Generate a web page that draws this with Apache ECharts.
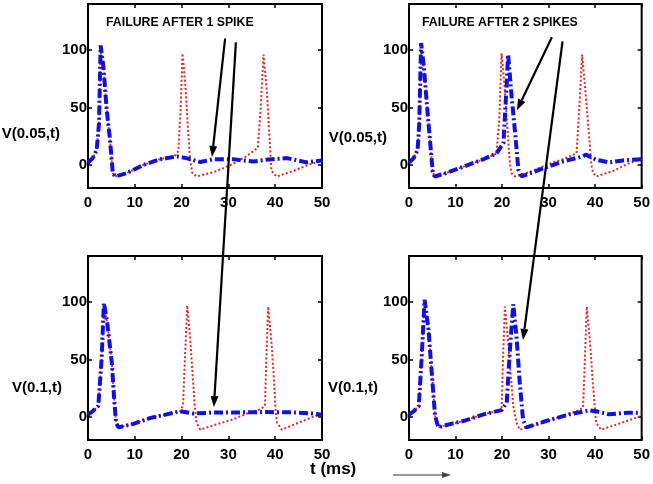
<!DOCTYPE html>
<html><head><meta charset="utf-8">
<script src="https://cdn.jsdelivr.net/npm/echarts@6/dist/echarts.min.js"></script>
<style>html,body{margin:0;padding:0;background:#fff}#c{width:653px;height:484px}</style>
</head><body><div id="c"></div>
<script>
const xTicks = [0, 10, 20, 30, 40, 50];
const yTicks = [0, 50, 100];
const panelYLabels = ['V(0.05,t)', 'V(0.05,t)', 'V(0.1,t)', 'V(0.1,t)'];
const failureLabels = ['FAILURE AFTER 1 SPIKE', 'FAILURE AFTER 2 SPIKES'];
const xAxisTitle = 't (ms)';

// panel 1 (top-left): V(0.05,t), failure after 1 spike
const blue1 = [[0,2],[1,6],[1.85,13],[2.35,36],[2.7,104],[3.3,85],[4,48],[4.7,22],[5.3,-7],[5.8,-10],[8.3,-7],[11.8,0],[15.4,5],[19,7.5],[21,6],[24,2.6],[26.8,5],[31,5],[35.3,3],[38,4.6],[42.5,6],[46.7,2.3],[50,4]];
const red1 = [[0,2],[1,6],[1.85,13],[2.35,36],[2.7,100],[3.3,85],[4,48],[4.7,22],[5.3,-7],[5.8,-10],[8.3,-7],[11.8,0],[15.4,5],[18.5,8],[19.3,12],[19.8,50],[20.2,97],[20.8,70],[21.3,35],[21.8,5],[22.3,-7],[23.2,-10],[27,-6],[31,1],[34,8],[36.3,15],[36.9,50],[37.5,96],[38.2,65],[38.7,30],[39.2,-5],[40.3,-10],[44,-5],[47,0],[50,4]];
// panel 2 (top-right): V(0.05,t), failure after 2 spikes
const blue2 = [[0,2],[1,6],[1.85,13],[2.2,36],[2.6,106],[3.2,85],[3.9,50],[4.5,22],[5.1,-6],[5.5,-10],[8,-7],[12,-1],[16,5],[18.8,10],[20.3,19],[21,71],[21.3,96],[22,62],[22.8,28],[23.5,-4],[24.2,-10],[28.8,-3],[33,3],[37.4,7.5],[38,9],[40.2,4.6],[43,2.3],[46,4],[50,5]];
const red2 = [[0,2],[1,6],[1.85,13],[2.2,36],[2.6,100],[3.2,85],[3.9,50],[4.5,22],[5.1,-6],[5.5,-10],[8,-7],[12,-1],[16,5],[18.8,10],[19.4,40],[19.9,97],[20.5,70],[21.1,35],[21.6,5],[22,-7],[22.8,-10],[26,-6],[29.5,0],[33,5],[36,10],[36.6,50],[37.2,96],[37.9,65],[38.6,30],[39.2,0],[39.6,-7],[40.2,-10],[44,-5],[47,1],[50,5]];
// panel 3 (bottom-left): V(0.1,t)
const blue3 = [[0,2],[1,5],[2.2,9.5],[2.9,50],[3.4,99],[4.1,82],[5.1,47],[5.6,15],[6,-5],[6.5,-9],[9.7,-6],[13.2,-1],[16.8,2.3],[19.7,5],[22.5,3],[27.5,4],[32.5,4],[38.2,4.3],[43.9,4],[48,3],[50,2]];
const red3 = [[0,2],[1,5],[2.2,9.5],[2.9,50],[3.4,96],[4.1,82],[5.1,47],[5.6,15],[6,-5],[6.5,-9],[9.7,-6],[13.2,-1],[16.8,2.3],[19.7,5],[20.3,10],[20.7,50],[21.2,97],[21.8,70],[22.3,40],[22.8,10],[23.2,-5],[24,-11],[27,-7],[31,-2],[34,3],[36.8,6.6],[37.8,9.5],[38.1,50],[38.5,96],[39.2,65],[39.7,35],[40.1,5],[40.4,-5],[41.4,-11],[45,-5],[48,0],[50,2.3]];
// panel 4 (bottom-right): V(0.1,t)
const blue4 = [[0,2],[1,5],[2.1,9.5],[2.7,50],[3.35,102],[4.2,76],[4.9,38],[5.6,1],[6.3,-9],[9,-6],[11.7,-3.5],[16,2.3],[19.9,6],[21,12.4],[21.7,59],[22.4,98],[23.1,70],[23.8,30],[24.5,-2],[25.2,-9],[29.5,-3.5],[34.5,2.3],[38.8,5.8],[40.2,5],[43,2.3],[47.4,3.8],[50,3.8]];
const red4 = [[0,2],[1,5],[2.1,9.5],[2.7,50],[3.35,98],[4.2,76],[4.9,38],[5.6,1],[6.3,-9],[9,-6],[11.7,-3.5],[16,2.3],[19.9,6],[20.2,50],[20.6,96],[21.2,70],[21.8,40],[22.4,10],[23.1,-5],[23.8,-11],[28,-6],[33,1],[36,5],[37.4,8],[37.8,50],[38.2,96],[38.9,65],[39.5,30],[40.2,-5],[41.3,-11],[45,-6],[50,1]];

// annotation arrows in data coords: [gridStart, [t,v], gridEnd, [t,v]]
const arrows = [
  [0, [29.3, 110], 0, [26.5, 7]],
  [0, [31.6, 106.6], 2, [26.9, 8.6]],
  [1, [30.7, 111], 1, [23.2, 47.7]],
  [1, [33.0, 107.5], 3, [24.5, 67]]
];

const blues = [blue1, blue2, blue3, blue4];
const reds = [red1, red2, red3, red4];
const FONT = 'Liberation Sans, Arial, Helvetica, sans-serif';

const grids = [
  {left: 88, top: 4, width: 234, height: 184},
  {left: 409, top: 4, width: 233, height: 184},
  {left: 88, top: 256, width: 234, height: 184},
  {left: 409, top: 256, width: 233, height: 184}
];

const xAxes = [], yAxes = [], series = [];
grids.forEach((g, i) => {
  g.show = true; g.borderColor = '#000'; g.borderWidth = 2; g.backgroundColor = '#fff';
  const tick = {inside: true, length: 4, lineStyle: {color: '#000', width: 1.5}};
  const lab = {fontSize: 15, fontWeight: 'bold', color: '#000', fontFamily: FONT};
  const line = {show: false, onZero: false};
  xAxes.push({gridIndex: i, type: 'value', min: 0, max: 50, interval: 10, position: 'bottom',
    axisLine: line, axisTick: tick, splitLine: {show: false},
    axisLabel: Object.assign({margin: 7}, lab)});
  xAxes.push({gridIndex: i, type: 'value', min: 0, max: 50, interval: 10, position: 'top',
    axisLine: line, axisTick: tick, splitLine: {show: false}, axisLabel: {show: false}});
  yAxes.push({gridIndex: i, type: 'value', min: -20, max: 140, position: 'left',
    axisLine: line, axisTick: Object.assign({customValues: yTicks}, tick), splitLine: {show: false},
    axisLabel: Object.assign({margin: 1, customValues: yTicks}, lab)});
  yAxes.push({gridIndex: i, type: 'value', min: -20, max: 140, position: 'right',
    axisLine: line, axisTick: Object.assign({customValues: yTicks}, tick), splitLine: {show: false},
    axisLabel: {show: false}});
  series.push({type: 'line', xAxisIndex: 2 * i, yAxisIndex: 2 * i, data: reds[i], showSymbol: false,
    symbol: 'none', animation: false, z: 2,
    lineStyle: {color: '#e02828', width: 2, type: [2, 2.2]}});
  series.push({type: 'line', xAxisIndex: 2 * i, yAxisIndex: 2 * i, data: blues[i], showSymbol: false,
    symbol: 'none', animation: false, z: 3,
    lineStyle: {color: '#1010e0', width: 4, type: [9, 3, 2, 3]}});
});

const chart = echarts.init(document.getElementById('c'), null, {renderer: 'canvas'});
chart.setOption({
  animation: false,
  grid: grids, xAxis: xAxes, yAxis: yAxes, series: series
});

const graphic = [];
const labelPos = [[60, 134], [387, 138], [62, 388], [378, 388]];
panelYLabels.forEach((t, i) => {
  graphic.push({type: 'text', x: labelPos[i][0], y: labelPos[i][1], z: 10,
    style: {text: t, font: 'bold 15px ' + FONT, fill: '#000', textAlign: 'right', textVerticalAlign: 'middle'}});
});
graphic.push({type: 'text', x: 106, y: 23, z: 10,
  style: {text: failureLabels[0], font: 'bold 12.3px ' + FONT, fill: '#000', textAlign: 'left', textVerticalAlign: 'middle'}});
graphic.push({type: 'text', x: 422, y: 23, z: 10,
  style: {text: failureLabels[1], font: 'bold 12.3px ' + FONT, fill: '#000', textAlign: 'left', textVerticalAlign: 'middle'}});
graphic.push({type: 'text', x: 310, y: 469, z: 10,
  style: {text: xAxisTitle, font: 'bold 17px ' + FONT, fill: '#000', textAlign: 'left', textVerticalAlign: 'middle'}});
// gray arrow under the axis title
graphic.push({type: 'line', z: 10, shape: {x1: 393, y1: 475, x2: 444, y2: 475}, style: {stroke: '#999', lineWidth: 2}});
graphic.push({type: 'polygon', z: 10, shape: {points: [[451, 475], [442, 472], [442, 478]]}, style: {fill: '#444'}});

arrows.forEach(a => {
  const p0 = chart.convertToPixel({gridIndex: a[0]}, a[1]);
  const p1 = chart.convertToPixel({gridIndex: a[2]}, a[3]);
  const dx = p1[0] - p0[0], dy = p1[1] - p0[1];
  const L = Math.sqrt(dx * dx + dy * dy), ux = dx / L, uy = dy / L;
  const hl = 11, hw = 4;
  const bx = p1[0] - ux * hl, by = p1[1] - uy * hl;
  graphic.push({type: 'line', z: 20, shape: {x1: p0[0], y1: p0[1], x2: bx, y2: by},
    style: {stroke: '#000', lineWidth: 2.2}});
  graphic.push({type: 'polygon', z: 20, shape: {points: [[p1[0], p1[1]], [bx - uy * hw, by + ux * hw], [bx + uy * hw, by - ux * hw]]},
    style: {fill: '#000'}});
});
chart.setOption({graphic: graphic});
</script>
</body></html>
